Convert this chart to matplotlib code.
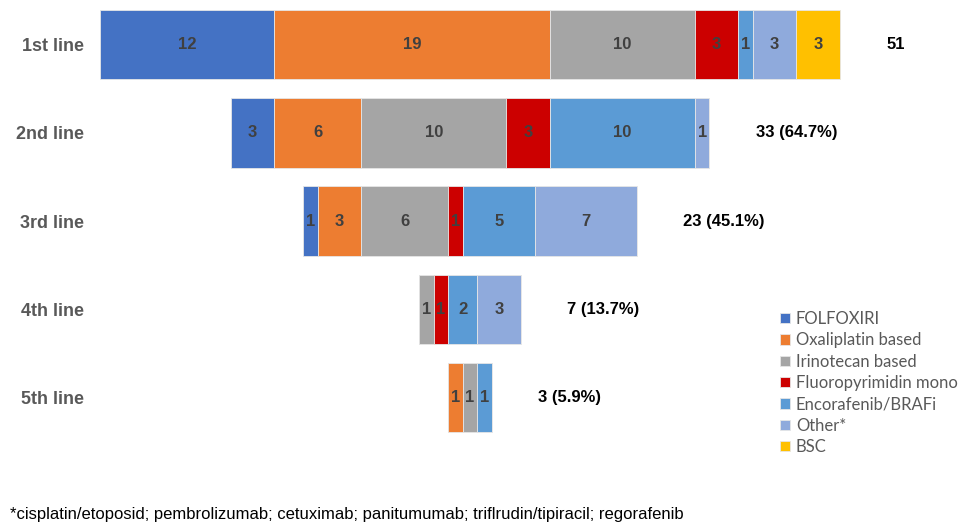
import matplotlib.pyplot as plt
import numpy as np

# Treatment lines (top to bottom)
lines = ["1st line", "2nd line", "3rd line", "4th line", "5th line"]
totals_text = ["51", "33 (64.7%)", "23 (45.1%)", "7 (13.7%)", "3 (5.9%)"]

series = ["FOLFOXIRI", "Oxaliplatin based", "Irinotecan based",
          "Fluoropyrimidin mono", "Encorafenib/BRAFi", "Other*", "BSC"]
folfoxiri = [12, 3, 1, 0, 0]
oxaliplatin = [19, 6, 3, 0, 1]
irinotecan = [10, 10, 6, 1, 1]
fluoro = [3, 3, 1, 1, 0]
encorafenib = [1, 10, 5, 2, 1]
other = [3, 1, 7, 3, 0]
bsc = [3, 0, 0, 0, 0]

colors = ["#4472C4", "#ED7D31", "#A5A5A5", "#CC0000", "#5B9BD5", "#8FAADC", "#FFC000"]

data = np.array([folfoxiri, oxaliplatin, irinotecan, fluoro, encorafenib, other, bsc], dtype=float)
totals = data.sum(axis=0)

fig = plt.figure(figsize=(9.73, 5.24), dpi=100)
ax = fig.add_axes([100 / 973, (524 - 441.75) / 524, 840 / 973, 441.25 / 524])

y = np.arange(len(lines))
left = -totals / 2  # centred funnel
for vals, name, col in zip(data, series, colors):
    ax.barh(y, vals, left=left, height=0.79, color=col, label=name,
            edgecolor="#e6e6e6", linewidth=0.6)
    for yi, (v, l) in enumerate(zip(vals, left)):
        if v > 0:
            ax.text(l + v / 2, yi, f"{int(v)}", ha="center", va="center",
                    fontsize=12, fontweight="bold", color="#404040",
                    family="Liberation Sans")
    left = left + vals

for yi, (t, txt) in enumerate(zip(totals, totals_text)):
    ax.text(t / 2 + 3.2, yi, txt, ha="left", va="center", fontsize=12,
            fontweight="bold", color="black", family="Liberation Sans")

ax.set_xlim(-25.5, -25.5 + 840 / 14.51)
ax.set_ylim(4.5, -0.5)
ax.set_yticks(y)
ax.set_yticklabels(lines, fontsize=13, fontweight="bold", color="#595959",
                   family="Liberation Sans")
ax.tick_params(axis="y", length=0, pad=11.5)
ax.set_xticks([])
for s in ax.spines.values():
    s.set_visible(False)

leg = ax.legend(loc="upper left", bbox_to_anchor=(780 / 973, 1 - 311 / 524),
                bbox_transform=fig.transFigure, frameon=False,
                prop={"family": "Lato", "size": 12}, handlelength=0.6,
                handleheight=0.6, handletextpad=0.35, labelspacing=0.32,
                borderpad=0, borderaxespad=0)
for t in leg.get_texts():
    t.set_color("#595959")

fig.text(10 / 973, 1 - 515 / 524, "*cisplatin/etoposid; pembrolizumab; cetuximab; panitumumab; triflrudin/tipiracil; regorafenib",
         ha="left", va="center", fontsize=12, family="Liberation Sans", color="black")

fig.savefig("out.png", dpi=100)
